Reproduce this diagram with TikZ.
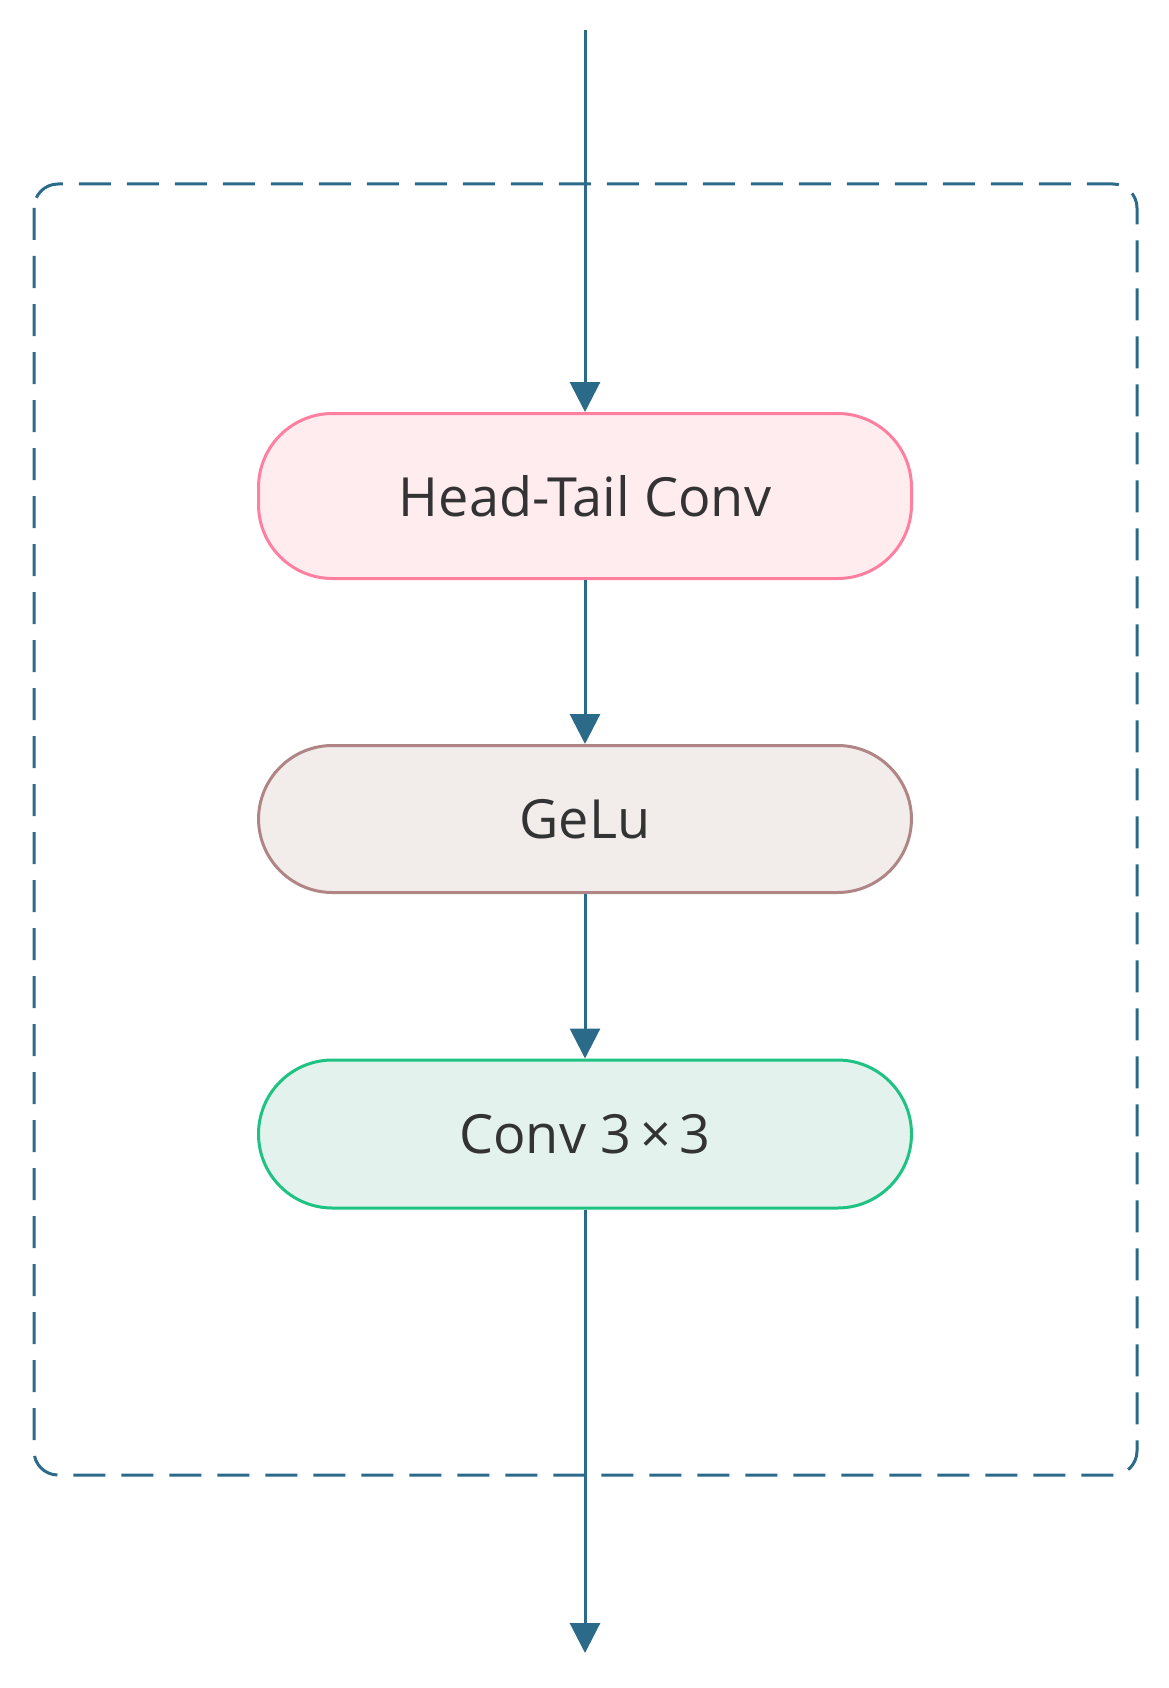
\documentclass[tikz,border=0pt]{standalone}
\usepackage{fontspec}
\setmainfont{Open Sans}
\usetikzlibrary{positioning,arrows.meta}
\definecolor{flow}{HTML}{2C6A8A}
\definecolor{htline}{HTML}{FF7FA0}
\definecolor{htfill}{HTML}{FFECEF}
\definecolor{geline}{HTML}{B08585}
\definecolor{gefill}{HTML}{F2ECEB}
\definecolor{cvline}{HTML}{1EC283}
\definecolor{cvfill}{HTML}{E3F2EC}
\definecolor{txt}{HTML}{333333}
\tikzset{
  block/.style={rounded corners=74pt,line width=3pt,minimum width=653pt,text=txt,font=\fontsize{54pt}{62pt}\selectfont},
  flowarrow/.style={draw=flow,line width=3pt,-{Triangle[length=30pt,width=30pt]}}
}
\begin{document}
\begin{tikzpicture}[x=1pt,y=-1pt]
	\useasboundingbox (0,0) rectangle (1168,1688);
	\draw[flow,line width=3pt,dash pattern=on 32pt off 16pt,rounded corners=24pt] (34,184) rectangle (1137,1475);
	
	\coordinate (in) at (585,30);
	\node[block,draw=htline,fill=htfill,minimum height=165pt] (HT) at (585,496) {Head-Tail Conv};
	\node[block,draw=geline,fill=gefill,minimum height=147pt] (GL) at (585,819) {GeLu};
	\node[block,draw=cvline,fill=cvfill,minimum height=148pt] (CV) at (585,1134) {Conv 3\,×\,3};
	\coordinate (out) at (585,1653);
	
	\draw[flowarrow] (in) -- (HT);
	\draw[flowarrow] (HT) -- (GL);
	\draw[flowarrow] (GL) -- (CV);
	\draw[flowarrow] (CV) -- (out);
\end{tikzpicture}
\end{document}
